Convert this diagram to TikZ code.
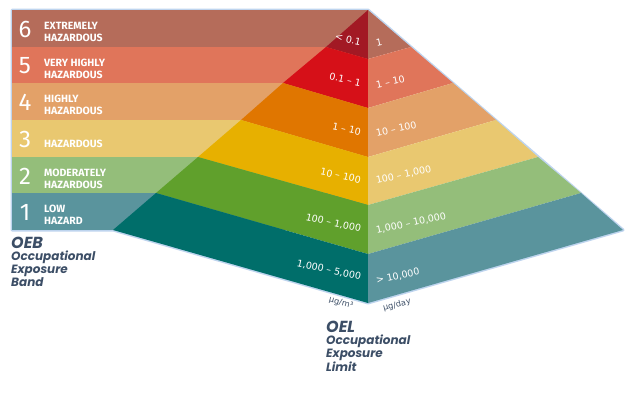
\documentclass[tikz,border=0pt]{standalone}
\usepackage{fontspec}
\setmainfont{Fira Sans}
\newfontfamily\valfont{DejaVu Sans}
\newfontfamily\keyfont{Poppins}
\usetikzlibrary{positioning}
\definecolor{pbrown}{RGB}{181,108,90}
\definecolor{psalmon}{RGB}{224,117,90}
\definecolor{ptan}{RGB}{227,161,104}
\definecolor{psand}{RGB}{233,200,112}
\definecolor{psage}{RGB}{148,190,122}
\definecolor{pteal}{RGB}{90,148,157}
\definecolor{fmaroon}{RGB}{162,25,36}
\definecolor{fred}{RGB}{214,16,24}
\definecolor{forange}{RGB}{224,118,0}
\definecolor{fyellow}{RGB}{231,176,0}
\definecolor{fgreen}{RGB}{96,160,44}
\definecolor{fteal}{RGB}{0,110,106}
\definecolor{oslate}{RGB}{60,78,102}
\definecolor{oedge}{RGB}{190,212,238}
\tikzset{
  num/.style  ={text=white, inner sep=0pt, font=\fontsize{24}{24}\selectfont},
  band/.style ={anchor=west, align=left, text=white, inner sep=0pt,
                font=\fontsize{10.5}{12}\selectfont\bfseries},
  lval/.style ={anchor=east, rotate=-12, text=white, inner sep=0pt,
                font=\fontsize{9.5}{9.5}\valfont},
  rval/.style ={anchor=west, rotate=12, text=white, inner sep=0pt,
                font=\fontsize{9.5}{9.5}\valfont},
  unit/.style ={text=oslate, inner sep=0pt, font=\fontsize{8.2}{8.2}\valfont},
  keyhead/.style={anchor=north west, text=oslate, inner sep=0pt,
                font=\fontsize{16}{16}\keyfont\bfseries\itshape},
  key/.style  ={anchor=north west, align=left, text=oslate, inner sep=0pt,
                font=\fontsize{12}{11.5}\keyfont\bfseries\itshape}
}

\begin{document}
\begin{tikzpicture}[x=1pt, y=-1pt]
\useasboundingbox (0,0) rectangle (630,399);
% outline
\draw[oedge, line width=3pt, line join=round] (12,10) -- (368,10) -- (623,230)
  -- (368,303) -- (113,230) -- (12,230) -- cycle;
% bands on the left
\fill[pbrown]  (12,10)  rectangle (368,47);
\fill[psalmon] (12,47)  rectangle (368,83);
\fill[ptan]    (12,83)  rectangle (368,120);
\fill[psand]   (12,120) rectangle (368,157);
\fill[psage]   (12,157) rectangle (368,193);
\fill[pteal]   (12,193) rectangle (368,230);
% left face
\fill[fmaroon] (368,10) -- (368,59) -- (326,47) -- cycle;
\fill[fred]    (326,47) -- (368,59) -- (368,108) -- (283,83) -- cycle;
\fill[forange] (283,83) -- (368,108) -- (368,157) -- (241,120) -- cycle;
\fill[fyellow] (241,120) -- (368,157) -- (368,205) -- (198,157) -- cycle;
\fill[fgreen]  (198,157) -- (368,205) -- (368,254) -- (156,193) -- cycle;
\fill[fteal]   (156,193) -- (368,254) -- (368,303) -- (113,230) -- cycle;
% right face
\fill[pbrown]  (368,10) -- (411,47) -- (368,59) -- cycle;
\fill[psalmon] (368,59) -- (411,47) -- (453,83) -- (368,108) -- cycle;
\fill[ptan]    (368,108) -- (453,83) -- (496,120) -- (368,157) -- cycle;
\fill[psand]   (368,157) -- (496,120) -- (538,157) -- (368,205) -- cycle;
\fill[psage]   (368,205) -- (538,157) -- (581,193) -- (368,254) -- cycle;
\fill[pteal]   (368,254) -- (581,193) -- (623,230) -- (368,303) -- cycle;
% band numbers and names
\node[num] (n6) at (25,29)  {6};
\node[num] (n5) at (25,66)  {5};
\node[num] (n4) at (25,102) {4};
\node[num] (n3) at (25,139) {3};
\node[num] (n2) at (25,176) {2};
\node[num] (n1) at (25,212) {1};
\node[band] (b6) at (44,32)  {EXTREMELY\\HAZARDOUS};
\node[band] (b5) at (44,69)  {VERY HIGHLY\\HAZARDOUS};
\node[band] (b4) at (44,105) {HIGHLY\\HAZARDOUS};
\node[band] (b3) at (44,142) {\mbox{}\\HAZARDOUS};
\node[band] (b2) at (44,179) {MODERATELY\\HAZARDOUS};
\node[band] (b1) at (44,215) {LOW\\HAZARD};
% limits, ug/m3
\node[lval] (l6) at (361,42)  {< 0.1};
\node[lval] (l5) at (361,83)  {0.1 \textendash{} 1};
\node[lval] (l4) at (361,132) {1 \textendash{} 10};
\node[lval] (l3) at (361,180) {10 \textendash{} 100};
\node[lval] (l2) at (361,229) {100 \textendash{} 1,000};
\node[lval] (l1) at (361,277) {1,000 \textendash{} 5,000};
% limits, ug/day
\node[rval] (r6) at (376,43)  {1};
\node[rval] (r5) at (376,85)  {1 \textendash{} 10};
\node[rval] (r4) at (376,133) {10 \textendash{} 100};
\node[rval] (r3) at (376,181) {100 \textendash{} 1,000};
\node[rval] (r2) at (376,231) {1,000 \textendash{} 10,000};
\node[rval] (r1) at (376,281) {> 10,000};
\node[unit, rotate=-15] (um) at (341,303) {µg/m³};
\node[unit, rotate=15]  (ud) at (397,305) {µg/day};
% keys
\node[keyhead] (oeb) at (11,237) {OEB};
\node[key, below=2pt of oeb.south west, anchor=north west] (oebt) {Occupational\\Exposure\\Band};
\node[keyhead] (oel) at (326,321) {OEL};
\node[key, below=2pt of oel.south west, anchor=north west] (oelt) {Occupational\\Exposure\\Limit};
\end{tikzpicture}
\end{document}
